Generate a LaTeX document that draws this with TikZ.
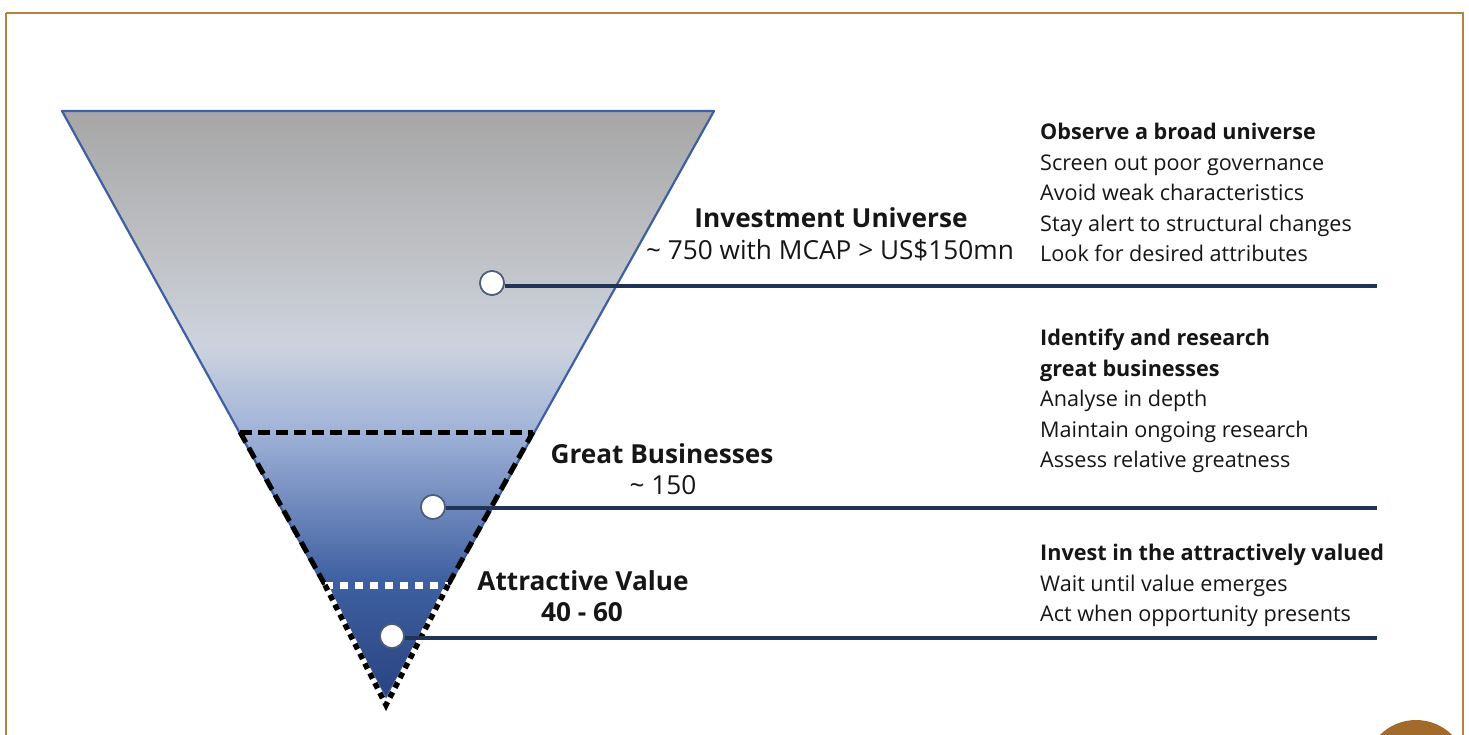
\documentclass[tikz,border=0pt]{standalone}
\usepackage{fontspec}
\setmainfont{Open Sans}
\usetikzlibrary{calc}
\definecolor{frame}{HTML}{B5823F}
\definecolor{badge}{HTML}{A36B2B}
\definecolor{edge}{HTML}{3F5FA3}
\definecolor{navy}{HTML}{1F3457}
\definecolor{ink}{HTML}{161616}
\definecolor{c0}{HTML}{A6A6A6}
\definecolor{c1}{HTML}{BFC1C5}
\definecolor{c2}{HTML}{CDD3DE}
\definecolor{c3}{HTML}{A2B4D8}
\definecolor{c4}{HTML}{3E60A1}
\definecolor{c5}{HTML}{2A4380}
% vertical colour ramp of the funnel: dark blue at the tip, grey at the rim
\pgfdeclareverticalshading{funnelramp}{100bp}{color(0bp)=(c5); color(25bp)=(c5); color(35bp)=(c4); color(48bp)=(c3); color(55bp)=(c2); color(63bp)=(c1); color(75bp)=(c0); color(100bp)=(c0)}
\tikzset{
  dot/.style={circle, draw=navy!80, line width=1.6pt, fill=white, minimum size=24pt, inner sep=0pt},
  link/.style={draw=navy, line width=3.4pt},
  tier/.style={font=\fontsize{26.2}{29}\selectfont\bfseries, text=ink, inner sep=0pt},
  tiersub/.style={font=\fontsize{26.2}{29}\selectfont, text=ink, inner sep=0pt},
  notes/.style={font=\fontsize{21.6}{30.5}\selectfont, text=ink, align=left, anchor=north west, inner sep=0pt},
  blackdash/.style={line width=5pt, dash pattern=on 12pt off 6pt},
}
\begin{document}
\begin{tikzpicture}[x=1pt, y=-1pt]
\useasboundingbox (0,0) rectangle (1469,735);
\fill[white] (0,0) rectangle (1469,735);
% outer frame and corner badge
\begin{scope}
\clip (0,0) rectangle (1469,735);
\draw[frame, line width=2.8pt] (6,13) -- (1463,13) -- (1463,760);
\draw[frame, line width=2.8pt] (6,13) -- (6,760);
\fill[badge] (1416,771) circle (51);
\end{scope}
% funnel corners
\coordinate (tl) at (62,111);
\coordinate (tr) at (714,111);
\coordinate (tip) at (386,698);
\coordinate (gl) at (240,432);
\coordinate (gr) at (533,432);
\coordinate (al) at (325,585);
\coordinate (ar) at (448,585);
\coordinate (end) at (386,705);
% funnel body
\shade[shading=funnelramp] (tl) -- (tr) -- (tip) -- cycle;
\draw[edge, line width=2.2pt, line join=round] (tl) -- (tr) -- (tip) -- cycle;
% great businesses tier outline
\draw[black, blackdash] (gl) -- (gr);
\draw[black, blackdash] (gl) -- (al);
\draw[black, blackdash] (gr) -- (ar);
% attractive value tier outline
\draw[white, line width=7pt, dash pattern=on 8pt off 7pt] (al) -- (ar);
\draw[white, line width=5.5pt] (al) -- (end) -- (ar);
\draw[black, line width=5.5pt, dash pattern=on 6pt off 5pt] (al) -- (end) -- (ar);
% markers and leader lines
\node[dot] (d1) at (492,283) {};
\node[dot] (d2) at (433,507) {};
\node[dot] (d3) at (392,636) {};
\coordinate (e1) at (1377,286);
\coordinate (e2) at (1377,508);
\coordinate (e3) at (1377,638);
\draw[link] (d1.east |- e1) -- (e1);
\draw[link] (d2.east |- e2) -- (e2);
\draw[link] (d3.east |- e3) -- (e3);
\node[dot] at (d1) {};
\node[dot] at (d2) {};
\node[dot] at (d3) {};
% tier labels
\node[tier] (l1) at (831,218) {Investment Universe};
\node[tiersub] (s1) at (830,250) {\textasciitilde{} 750 with MCAP > US\$150mn};
\node[tier] (l2) at (662,454) {Great Businesses};
\node[tiersub] (s2) at (663,485) {\textasciitilde{} 150};
\node[tier] (l3) at (583,581) {Attractive Value};
\node[tier] (s3) at (582,612) {40 - 60};
% right-hand notes
\node[notes] (n1) at (1040,123) {\textbf{Observe a broad universe}\\Screen out poor governance\\Avoid weak characteristics\\Stay alert to structural changes\\Look for desired attributes};
\node[notes] (n2) at (1040,329) {\textbf{Identify and research}\\\textbf{great businesses}\\Analyse in depth\\Maintain ongoing research\\Assess relative greatness};
\node[notes] (n3) at (1040,544) {\textbf{Invest in the attractively valued}\\Wait until value emerges\\Act when opportunity presents};
\end{tikzpicture}
\end{document}
